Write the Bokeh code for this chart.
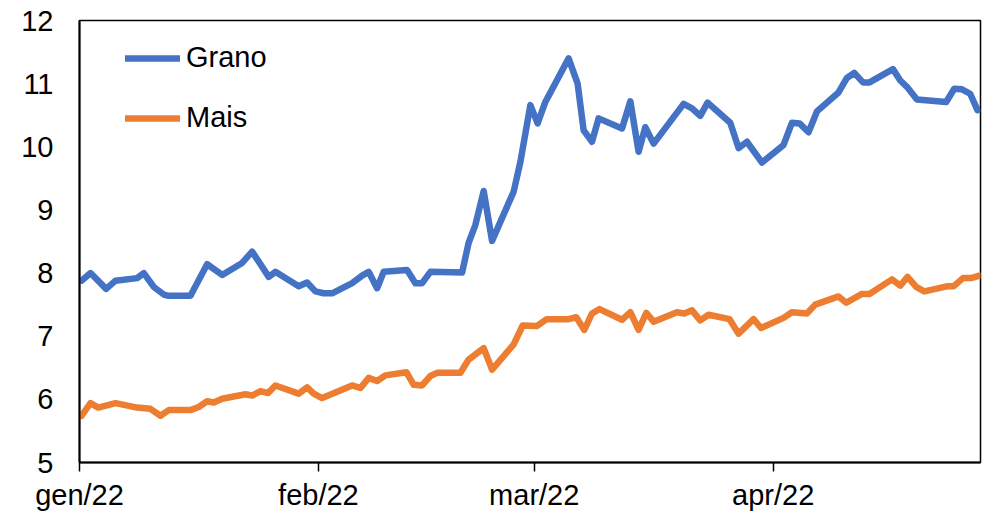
from bokeh.plotting import figure
from bokeh.models import FixedTicker, Legend, LegendItem, Range1d
from bokeh.embed import file_html
from bokeh.resources import INLINE

# Days since 1 Jan 2022 and prices
grano_giorni = [0.26, 1.43, 3.46, 4.67, 7.48, 8.34, 9.64, 10.93, 11.58, 14.40, 16.56, 18.51,
                21.10, 22.40, 24.55, 25.42, 28.44, 29.53, 30.61, 31.69, 32.78, 35.37, 36.67,
                37.52, 38.61, 39.47, 42.50, 43.58, 44.45, 45.53, 49.64, 50.49, 51.36, 52.44,
                53.53, 56.33, 57.20, 58.50, 59.44, 60.44, 63.46, 64.63, 65.41, 66.50, 67.35,
                70.39, 71.47, 72.54, 73.41, 74.49, 78.38, 79.47, 80.54, 81.49, 84.43, 85.51,
                86.60, 88.55, 91.35, 92.43, 93.42, 94.59, 95.68, 98.48, 99.57, 100.52, 101.65,
                102.50, 105.54, 106.49, 107.35, 108.65, 112.45, 113.49, 114.49, 115.56, 116.51]
grano_valori = [7.88, 8.00, 7.75, 7.88, 7.92, 8.00, 7.78, 7.66, 7.64, 7.64, 8.14, 7.97,
                8.16, 8.34, 7.94, 8.02, 7.79, 7.85, 7.71, 7.68, 7.68, 7.84, 7.96,
                8.02, 7.76, 8.02, 8.05, 7.84, 7.84, 8.02, 8.01, 8.48, 8.76, 9.30,
                8.51, 9.29, 9.76, 10.66, 10.37, 10.71, 11.40, 11.00, 10.26, 10.08, 10.45,
                10.29, 10.72, 9.92, 10.31, 10.05, 10.68, 10.61, 10.49, 10.70, 10.38, 9.98,
                10.08, 9.75, 10.03, 10.38, 10.37, 10.23, 10.56, 10.86, 11.09, 11.17, 11.02,
                11.02, 11.23, 11.05, 10.95, 10.75, 10.71, 10.92, 10.91, 10.84, 10.58]

mais_giorni = [0.26, 1.43, 2.43, 4.67, 7.48, 9.21, 10.51, 11.58, 14.40, 15.47, 16.56, 17.42,
               18.51, 21.53, 22.40, 23.48, 24.47, 25.42, 28.44, 29.53, 30.39, 31.48, 35.37,
               36.45, 37.52, 38.61, 39.69, 42.41, 43.36, 44.45, 45.53, 46.39, 49.42, 50.49,
               52.44, 53.53, 56.33, 57.50, 59.33, 60.62, 63.46, 64.46, 65.50, 66.50, 67.48,
               70.39, 71.47, 72.54, 73.54, 74.49, 77.52, 78.47, 79.47, 80.54, 81.62, 84.34,
               85.51, 87.45, 88.42, 91.35, 92.43, 94.38, 95.46, 98.48, 99.48, 101.52, 102.50,
               105.41, 106.49, 107.43, 108.56, 109.60, 112.54, 113.40, 114.62, 115.66, 116.77]
mais_valori = [5.74, 5.94, 5.87, 5.94, 5.87, 5.85, 5.74, 5.83, 5.83, 5.88, 5.97, 5.95,
               6.01, 6.08, 6.06, 6.13, 6.10, 6.22, 6.09, 6.19, 6.09, 6.02, 6.22,
               6.18, 6.34, 6.29, 6.38, 6.43, 6.23, 6.22, 6.37, 6.42, 6.42, 6.63,
               6.81, 6.47, 6.87, 7.17, 7.16, 7.27, 7.27, 7.30, 7.10, 7.36, 7.43,
               7.26, 7.38, 7.10, 7.37, 7.23, 7.38, 7.36, 7.41, 7.25, 7.34, 7.27,
               7.04, 7.27, 7.13, 7.29, 7.38, 7.36, 7.50, 7.63, 7.53, 7.67, 7.67,
               7.90, 7.80, 7.94, 7.78, 7.71, 7.79, 7.79, 7.92, 7.92, 7.96]

mesi_giorni = [0, 31, 59, 90]
mesi_etichette = ["gen/22", "feb/22", "mar/22", "apr/22"]
y_ticks = [5, 6, 7, 8, 9, 10, 11, 12]

FONT = "Liberation Sans"
BLU = "#4472C4"
ARANCIO = "#ED7D31"

p = figure(width=987, height=513, output_backend="svg", toolbar_location=None,
           x_range=Range1d(0, 116.9), y_range=Range1d(5, 12))
p.min_border_left = 79
p.min_border_right = 7
p.min_border_top = 20
p.min_border_bottom = 50
p.background_fill_color = "white"
p.border_fill_color = "white"
p.outline_line_color = "black"
p.outline_line_width = 1.5
p.xgrid.visible = False
p.ygrid.visible = False

r1 = p.line(grano_giorni, grano_valori, line_color=BLU, line_width=6.5,
            line_join="round", line_cap="round")
r2 = p.line(mais_giorni, mais_valori, line_color=ARANCIO, line_width=6.5,
            line_join="round", line_cap="round")

xa = p.xaxis[0]
xa.ticker = FixedTicker(ticks=mesi_giorni)
xa.major_label_overrides = {d: l for d, l in zip(mesi_giorni, mesi_etichette)}
xa.minor_tick_line_color = None
xa.major_tick_in = 0
xa.major_tick_out = 9
xa.major_tick_line_color = "black"
xa.major_tick_line_width = 1.5
xa.axis_line_color = "black"
xa.axis_line_width = 2
xa.major_label_text_font = FONT
xa.major_label_text_font_size = "29px"
xa.major_label_text_color = "black"
xa.major_label_standoff = 7

ya = p.yaxis[0]
ya.ticker = FixedTicker(ticks=y_ticks)
ya.minor_tick_line_color = None
ya.major_tick_line_color = None
ya.major_tick_in = 0
ya.major_tick_out = 0
ya.axis_line_color = "black"
ya.axis_line_width = 2
ya.major_label_text_font = FONT
ya.major_label_text_font_size = "29px"
ya.major_label_text_color = "black"
ya.major_label_standoff = 26

legend = Legend(items=[LegendItem(label="Grano", renderers=[r1]),
                       LegendItem(label="Mais", renderers=[r2])],
                location=(46, 328), padding=0, margin=0, spacing=27,
                glyph_width=55, glyph_height=30, label_height=30, label_standoff=6,
                label_text_font=FONT, label_text_font_size="29px",
                label_text_color="black", border_line_color=None,
                background_fill_alpha=0)
p.add_layout(legend, "center")

open("out.html", "w").write(file_html(p, INLINE))
